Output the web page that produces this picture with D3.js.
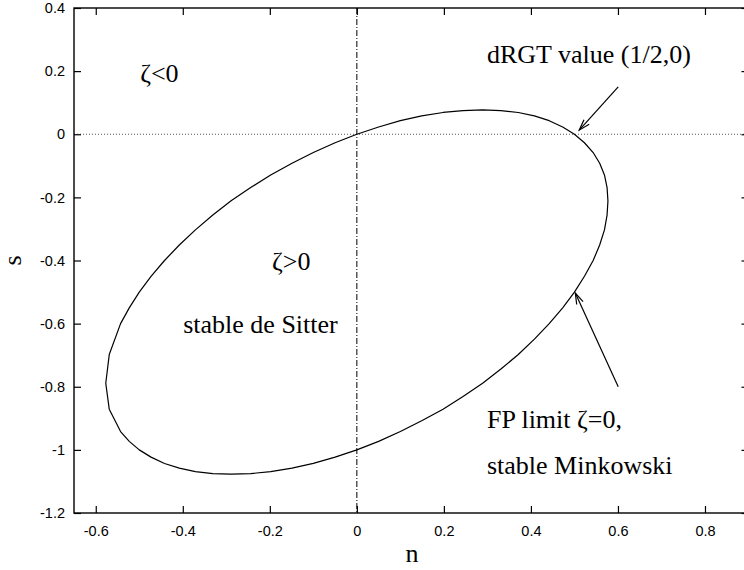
<!DOCTYPE html>
<html>
<head>
<meta charset="utf-8">
<script src="https://cdn.jsdelivr.net/npm/d3@7"></script>
<style>
  body { margin: 0; background: #fff; }
  svg { display: block; }
</style>
</head>
<body>
<svg id="chart" width="744" height="570"></svg>
<script>
// curve (n, s), traced from (1/2,0) counter-clockwise
let nVals = [0.500, 0.473, 0.442, 0.408, 0.371, 0.331, 0.289, 0.244, 0.198, 0.149, 0.100, 0.050,
             0.000, -0.050, -0.100, -0.149, -0.198, -0.244, -0.289, -0.331, -0.371, -0.408, -0.442, -0.473,
             -0.500, -0.523, -0.543, -0.569, -0.577, -0.569, -0.543, -0.523,
             -0.500, -0.473, -0.442, -0.408, -0.371, -0.331, -0.289, -0.244, -0.198, -0.149, -0.100, -0.050,
             0.000, 0.050, 0.100, 0.149, 0.198, 0.244, 0.289, 0.331, 0.371, 0.408, 0.442, 0.473,
             0.500, 0.523, 0.543, 0.558, 0.569, 0.575, 0.577, 0.575, 0.569, 0.558, 0.543, 0.523, 0.500]
let sVals = [0.000, 0.023, 0.043, 0.058, 0.069, 0.075, 0.077, 0.075, 0.069, 0.058, 0.043, 0.023,
             0.000, -0.027, -0.058, -0.092, -0.129, -0.169, -0.211, -0.256, -0.303, -0.351, -0.400, -0.450,
             -0.500, -0.550, -0.600, -0.698, -0.789, -0.871, -0.942, -0.973,
             -1.000, -1.023, -1.043, -1.058, -1.069, -1.075, -1.077, -1.075, -1.069, -1.058, -1.043, -1.023,
             -1.000, -0.973, -0.942, -0.908, -0.871, -0.831, -0.789, -0.744, -0.698, -0.649, -0.600, -0.550,
             -0.500, -0.450, -0.400, -0.351, -0.303, -0.256, -0.211, -0.169, -0.129, -0.092, -0.058, -0.027, 0.000]

let xTicks = [-0.6, -0.4, -0.2, 0, 0.2, 0.4, 0.6, 0.8]
let xTickLabels = ['-0.6', '-0.4', '-0.2', '0', '0.2', '0.4', '0.6', '0.8']
let yTicks = [0.4, 0.2, 0, -0.2, -0.4, -0.6, -0.8, -1, -1.2]
let yTickLabels = ['0.4', '0.2', '0', '-0.2', '-0.4', '-0.6', '-0.8', '-1', '-1.2']

let svg = d3.select('#chart')

// plot box
let pLeft = 74, pRight = 748.5, pTop = 8, pBottom = 513

let x = d3.scaleLinear().domain([-0.65, 0.9]).range([pLeft, pRight])
let y = d3.scaleLinear().domain([-1.2, 0.4]).range([pBottom, pTop])

let sans = 'Liberation Sans, Arial, sans-serif'
let serif = 'Liberation Serif, Times New Roman, serif'

// reference lines
svg.append('line')
   .attr('x1', pLeft).attr('x2', pRight)
   .attr('y1', y(0)).attr('y2', y(0))
   .attr('stroke', '#555').attr('stroke-width', 1)
   .attr('stroke-dasharray', '1,2')

svg.append('line')
   .attr('x1', x(0)).attr('x2', x(0))
   .attr('y1', pTop).attr('y2', pBottom)
   .attr('stroke', '#000').attr('stroke-width', 1)
   .attr('stroke-dasharray', '6,2,1,2')

// axes
let fmtX = (d, i) => xTickLabels[i]
let fmtY = (d, i) => yTickLabels[i]

let gx = svg.append('g').attr('transform', `translate(0,${pBottom})`)
   .call(d3.axisBottom(x).tickValues(xTicks).tickFormat(fmtX).tickSizeInner(-7).tickSizeOuter(0).tickPadding(13))
let gxt = svg.append('g').attr('transform', `translate(0,${pTop})`)
   .call(d3.axisTop(x).tickValues(xTicks).tickFormat('').tickSizeInner(-7).tickSizeOuter(0))
let gy = svg.append('g').attr('transform', `translate(${pLeft},0)`)
   .call(d3.axisLeft(y).tickValues(yTicks).tickFormat(fmtY).tickSizeInner(-7).tickSizeOuter(0).tickPadding(9))
let gyr = svg.append('g').attr('transform', `translate(${pRight},0)`)
   .call(d3.axisRight(y).tickValues(yTicks).tickFormat('').tickSizeInner(-7).tickSizeOuter(0))

;[gx, gxt, gy, gyr].forEach(g => {
  g.select('.domain').remove()
  g.selectAll('line').attr('stroke', '#000').attr('stroke-width', 1.2)
  g.selectAll('text').attr('fill', '#000').style('font-family', sans).style('font-size', '14.5px')
})

svg.append('rect')
   .attr('x', pLeft).attr('y', pTop)
   .attr('width', pRight - pLeft).attr('height', pBottom - pTop)
   .attr('fill', 'none').attr('stroke', '#000').attr('stroke-width', 1.4)

// curve
let pts = nVals.map((n, i) => [n, sVals[i]])
svg.append('path')
   .datum(pts)
   .attr('d', d3.line().x(d => x(d[0])).y(d => y(d[1])))
   .attr('fill', 'none')
   .attr('stroke', '#000')
   .attr('stroke-width', 1.2)
   .attr('stroke-linejoin', 'round')

// axis titles
svg.append('text')
   .attr('x', 412).attr('y', 562)
   .attr('text-anchor', 'middle')
   .style('font-family', serif).style('font-size', '26px')
   .text('n')

svg.append('text')
   .attr('transform', `translate(21,${(pTop + pBottom) / 2}) rotate(-90)`)
   .attr('text-anchor', 'middle')
   .style('font-family', serif).style('font-size', '26px')
   .text('s')

// arrows
svg.append('defs').append('marker')
   .attr('id', 'head')
   .attr('markerUnits', 'userSpaceOnUse')
   .attr('viewBox', '-12 -6 14 12')
   .attr('markerWidth', 14).attr('markerHeight', 12)
   .attr('refX', 0).attr('refY', 0)
   .attr('orient', 'auto')
   .append('path')
   .attr('d', 'M-11,-3.5L0,0L-11,3.5')
   .attr('fill', 'none').attr('stroke', '#000').attr('stroke-width', 1.2)

let arrows = [
  {from: [0.6006, 0.150], to: [0.511, 0.013]},
  {from: [0.6006, -0.800], to: [0.502, -0.503]}
]
svg.selectAll('.arrow')
   .data(arrows)
   .enter()
   .append('line')
   .attr('x1', d => x(d.from[0])).attr('y1', d => y(d.from[1]))
   .attr('x2', d => x(d.to[0])).attr('y2', d => y(d.to[1]))
   .attr('stroke', '#000').attr('stroke-width', 1.2)
   .attr('marker-end', 'url(#head)')

// labels
let notes = [
  {t: 'ζ<0', n: -0.498, s: 0.166},
  {t: 'ζ>0', n: -0.195, s: -0.430},
  {t: 'stable de Sitter', n: -0.399, s: -0.630},
  {t: 'dRGT value (1/2,0)', n: 0.299, s: 0.226},
  {t: 'FP limit ζ=0,', n: 0.299, s: -0.931},
  {t: 'stable Minkowski', n: 0.299, s: -1.077}
]
svg.selectAll('.note')
   .data(notes)
   .enter()
   .append('text')
   .attr('x', d => x(d.n))
   .attr('y', d => y(d.s))
   .style('font-family', serif)
   .style('font-size', '26px')
   .text(d => d.t)
</script>
</body>
</html>
